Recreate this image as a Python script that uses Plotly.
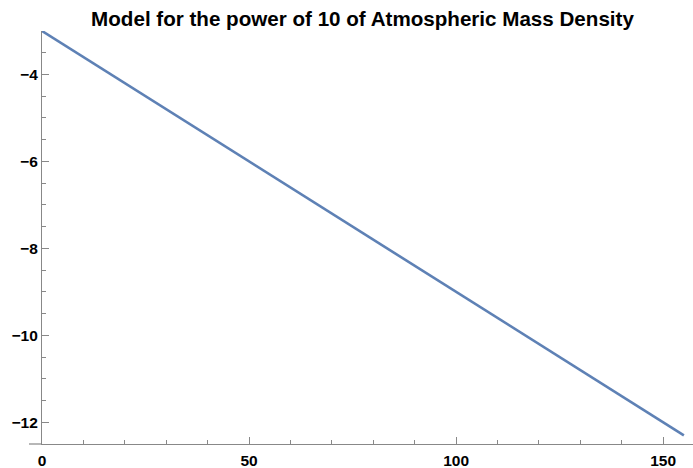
import plotly.graph_objects as go

# Data
x_vals = [0, 50, 100, 155]
y_vals = [-3.0, -6.0, -9.0, -12.3]

title_text = "Model for the power of 10 of Atmospheric Mass Density"
x_ticks = [0, 50, 100, 150]
y_ticks = [-12, -10, -8, -6, -4]

axis_col = "#888888"
font_fam = "Liberation Sans, Arial, sans-serif"

fig = go.Figure()
fig.add_trace(go.Scatter(
    x=x_vals, y=y_vals, mode="lines",
    line=dict(color="#5E81B5", width=2.6),
    hoverinfo="skip", showlegend=False,
))

fig.update_layout(
    width=693, height=468,
    margin=dict(l=42, r=0, t=31, b=24, autoexpand=False),
    paper_bgcolor="white", plot_bgcolor="white",
    title=dict(text="<b>" + title_text + "</b>", x=362.5 / 693, xanchor="center",
               y=1 - 26 / 468, yanchor="bottom",
               font=dict(family=font_fam, size=20.6, color="black")),
    font=dict(family=font_fam, color="black"),
)

fig.update_xaxes(
    range=[0, 157.2], showgrid=False, zeroline=False, automargin=False,
    showline=True, linecolor=axis_col, linewidth=1.2,
    tickmode="array", tickvals=x_ticks, ticktext=["<b>%d</b>" % v for v in x_ticks],
    ticks="inside", ticklen=7, tickwidth=1, tickcolor=axis_col,
    minor=dict(ticks="inside", ticklen=4, tickcolor=axis_col, dtick=10, tick0=0, showgrid=False),
    tickfont=dict(size=15.5, family=font_fam, color="black"),
    ticklabelstandoff=2,
)
fig.update_yaxes(
    range=[-12.5, -3], showgrid=False, zeroline=False, automargin=False,
    showline=True, linecolor=axis_col, linewidth=1.2,
    tickmode="array", tickvals=y_ticks, ticktext=["<b>\u2212%d</b>" % (-v) for v in y_ticks],
    ticks="inside", ticklen=7, tickwidth=1, tickcolor=axis_col,
    minor=dict(ticks="inside", ticklen=4, tickcolor=axis_col, dtick=0.5, tick0=-3, showgrid=False),
    tickfont=dict(size=15.5, family=font_fam, color="black"),
)

# small extension of the horizontal axis to the left of the vertical axis
fig.add_shape(type="line", xref="paper", yref="paper",
              x0=-13 / 651, x1=0, y0=0, y1=0,
              line=dict(color=axis_col, width=1.2))

fig.write_html("out.html", config={"displayModeBar": False},
               post_script="document.body.style.margin='0px';")
